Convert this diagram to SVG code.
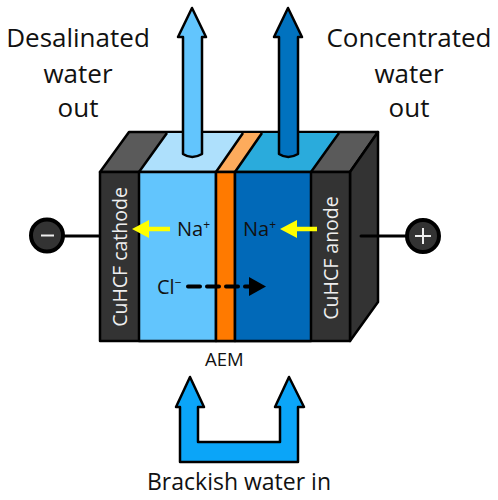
<svg xmlns="http://www.w3.org/2000/svg" width="498" height="500" viewBox="0 0 498 500">
<style>
.o{stroke:#000;stroke-width:2.5;stroke-linejoin:round}
.t{font-family:"Open Sans",sans-serif;fill:#111}
.big{font-size:26px;text-anchor:middle}
.m{font-size:20px}
.w{font-family:"Open Sans",sans-serif;fill:#eee;font-size:19.500px;text-anchor:middle}
.sup{font-size:12px}
</style>
<rect width="498" height="500" fill="#fff"/>
<g id="cell">
<polygon class="o" points="100,172 129,132 378,132 350,172" fill="#5a5a5a"/>
<polygon points="139,172 167,133 243,133 216,172" fill="#aee0fc"/>
<polygon points="216,172 243,133 262,133 235,172" fill="#fdab5c"/>
<polygon points="235,172 262,133 339,133 311,172" fill="#2aabdc"/>
<path class="o" fill="none" d="M139,172L167,133M216,172L243,133M235,172L262,133M311,172L339,133"/>
<polygon class="o" points="350,172 378,132 378,302 350,341" fill="#333"/>
<rect class="o" x="100" y="172" width="250" height="169" fill="#333"/>
<rect class="o" x="139" y="172" width="77" height="169" fill="#62c5fd"/>
<rect class="o" x="216" y="172" width="19" height="169" fill="#ff7a00"/>
<rect class="o" x="235" y="172" width="76" height="169" fill="#0169b8"/>
</g>
<g id="outlet-left"><path class="o" fill="#62c5fd" d="M183,37H178L192,8L206,37H202V154Q192,160 183,154Z"/></g>
<g id="outlet-right"><path class="o" fill="#0172bf" d="M279,37H274L288,8L302,37H298V154Q288,160 279,154Z"/></g>
<g id="inlet"><path class="o" fill="#0ba5f8" d="M180,462V407H176L190,377L204,407H198V442H280V407H275L289,377L304,407H298V462Z"/></g>
<g id="connectors">
<line x1="63" y1="236" x2="100" y2="236" stroke="#000" stroke-width="3"/>
<line x1="361" y1="236" x2="407" y2="236" stroke="#000" stroke-width="3" stroke-linecap="round"/>
<path d="M170,229H146" stroke="#ff0" stroke-width="4.500" fill="none"/><polygon points="132,229 149,220 149,238" fill="#ff0"/>
<path d="M317,229H293" stroke="#ff0" stroke-width="4.500" fill="none"/><polygon points="280,229 297,220 297,238" fill="#ff0"/>
<path d="M188,286.500H250" stroke="#000" stroke-width="4" stroke-dasharray="12 7" stroke-linecap="round" fill="none"/>
<polygon points="266,286.500 249,277 249,296" fill="#000"/>
</g>
<g id="terminal-minus"><circle cx="47" cy="235.500" r="16" fill="#333" stroke="#000" stroke-width="4"/><path d="M41,235.500H54" stroke="#eee" stroke-width="2"/></g>
<g id="terminal-plus"><circle cx="423" cy="236" r="16" fill="#333" stroke="#000" stroke-width="4"/><path d="M415,236H431M423,228V244" stroke="#eee" stroke-width="2"/></g>
<g id="labels">
<text class="t big" x="78" y="47">Desalinated</text>
<text class="t big" x="78" y="83">water</text>
<text class="t big" x="78" y="117">out</text>
<text class="t big" x="409" y="47">Concentrated</text>
<text class="t big" x="409" y="83">water</text>
<text class="t big" x="409" y="117">out</text>
<text class="w" transform="translate(127,257) rotate(-90)">CuHCF cathode</text>
<text class="w" transform="translate(338,258) rotate(-90)">CuHCF anode</text>
<text class="t m" x="177" y="236">Na<tspan class="sup" dy="-7">+</tspan></text>
<text class="t m" x="243" y="236">Na<tspan class="sup" dy="-7">+</tspan></text>
<text class="t m" x="157" y="294">Cl<tspan class="sup" dy="-7">−</tspan></text>
<text class="t" x="205" y="366" font-size="18.500">AEM</text>
<text class="t" x="147" y="490" font-size="23">Brackish water in</text>
</g>
</svg>
